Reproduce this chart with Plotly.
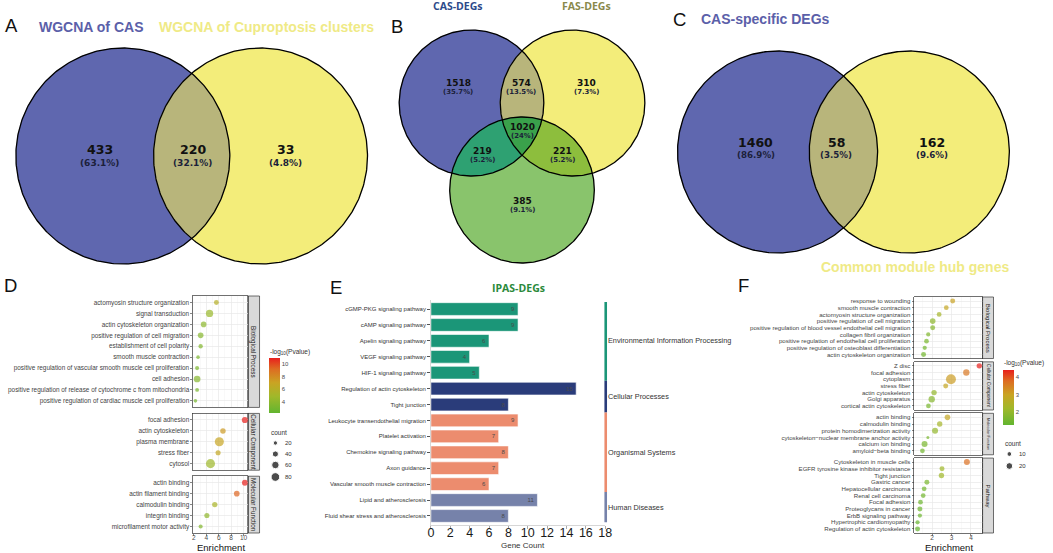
import numpy as np
import plotly.graph_objects as go

W, H = 1053, 553

# ============================ DATA ============================
A_sets = ["WGCNA of CAS", "WGCNA of Cuproptosis clusters"]
A_counts = [433, 220, 33]            # CAS only, both, Cuproptosis only

B_sets = ["CAS-DEGs", "FAS-DEGs", "IPAS-DEGs"]
B_regions = ["CAS", "CAS&FAS", "FAS", "CAS&IPAS", "CAS&FAS&IPAS", "FAS&IPAS", "IPAS"]
B_counts = [1518, 574, 310, 219, 1020, 221, 385]

C_sets = ["CAS-specific DEGs", "Common module hub genes"]
C_counts = [1460, 58, 162]

D_facets = ["Biological Process", "Cellular Component", "Molecular Function"]
D_bp_terms = ["actomyosin structure organization", "signal transduction",
              "actin cytoskeleton organization", "positive regulation of cell migration",
              "establishment of cell polarity", "smooth muscle contraction",
              "positive regulation of vascular smooth muscle cell proliferation",
              "cell adhesion",
              "positive regulation of release of cytochrome c from mitochondria",
              "positive regulation of cardiac muscle cell proliferation"]
D_bp_enrich = [5.63, 4.53, 3.58, 3.1, 3.1, 2.68, 2.53, 2.53, 2.53, 2.26]
D_bp_logp = [6.0, 4.6, 4.0, 3.8, 3.6, 3.4, 3.4, 3.8, 3.3, 3.2]
D_bp_count = [26, 56, 34, 34, 20, 14, 18, 48, 16, 14]

D_cc_terms = ["focal adhesion", "actin cytoskeleton", "plasma membrane", "stress fiber", "cytosol"]
D_cc_enrich = [10.2, 6.68, 6.1, 5.9, 4.68]
D_cc_logp = [10.9, 7.4, 6.9, 6.7, 4.8]
D_cc_count = [40, 32, 88, 28, 88]

D_mf_terms = ["actin binding", "actin filament binding", "calmodulin binding",
              "integrin binding", "microfilament motor activity"]
D_mf_enrich = [10.2, 8.9, 5.37, 4.1, 3.1]
D_mf_logp = [10.9, 9.3, 5.4, 4.2, 3.6]
D_mf_count = [36, 34, 30, 28, 18]

D_x_ticks = [2, 4, 6, 8, 10]
D_cbar_ticks = [4, 6, 8, 10]
D_count_breaks = [20, 40, 60, 80]

E_terms = ["cGMP-PKG signaling pathway", "cAMP signaling pathway", "Apelin signaling pathway",
           "VEGF signaling pathway", "HIF-1 signaling pathway", "Regulation of actin cytoskeleton",
           "Tight junction", "Leukocyte transendothelial migration", "Platelet activation",
           "Chemokine signaling pathway", "Axon guidance", "Vascular smooth muscle contraction",
           "Lipid and atherosclerosis", "Fluid shear stress and atherosclerosis"]
E_counts = [9, 9, 6, 4, 5, 15, 8, 9, 7, 8, 7, 6, 11, 8]
E_class = ["Environmental Information Processing"] * 5 + ["Cellular Processes"] * 2 + \
          ["Organismal Systems"] * 5 + ["Human Diseases"] * 2
E_x_ticks = [0, 2, 4, 6, 8, 10, 12, 14, 16, 18]

F_facets = ["Biological Process", "Cellular Component", "Molecular Function", "Pathway"]
F_bp_terms = ["response to wounding", "smooth muscle contraction", "actomyosin structure organization",
              "positive regulation of cell migration",
              "positive regulation of blood vessel endothelial cell migration",
              "collagen fibril organization", "positive regulation of endothelial cell proliferation",
              "positive regulation of osteoblast differentiation", "actin cytoskeleton organization"]
F_bp_enrich = [3.06, 2.73, 2.36, 2.03, 2.03, 1.8, 1.71, 1.62, 1.56]
F_bp_logp = [3.0, 2.9, 2.3, 1.9, 1.8, 1.7, 1.6, 1.5, 1.5]
F_bp_count = [11, 10, 10, 14, 11, 8, 10, 8, 11]

F_cc_terms = ["Z disc", "focal adhesion", "cytoplasm", "stress fiber", "actin cytoskeleton",
              "Golgi apparatus", "cortical actin cytoskeleton"]
F_cc_enrich = [4.43, 3.76, 2.97, 2.7, 2.1, 1.98, 1.81]
F_cc_logp = [4.4, 3.6, 3.1, 2.9, 2.0, 1.8, 1.6]
F_cc_count = [13, 18, 44, 11, 13, 18, 10]

F_mf_terms = ["actin binding", "calmodulin binding", "protein homodimerization activity",
              "cytoskeleton\u2212nuclear membrane anchor activity", "calcium ion binding",
              "amyloid\u2212beta binding"]
F_mf_enrich = [2.79, 2.39, 2.15, 1.78, 1.61, 1.5]
F_mf_logp = [2.9, 2.3, 2.0, 1.6, 1.6, 1.5]
F_mf_count = [14, 13, 16, 4, 16, 10]

F_pw_terms = ["Cytoskeleton in muscle cells", "EGFR tyrosine kinase inhibitor resistance",
              "Tight junction", "Gastric cancer", "Hepatocellular carcinoma", "Renal cell carcinoma",
              "Focal adhesion", "Proteoglycans in cancer", "ErbB signaling pathway",
              "Hypertrophic cardiomyopathy", "Regulation of actin cytoskeleton"]
F_pw_enrich = [3.79, 2.51, 2.48, 1.73, 1.59, 1.54, 1.4, 1.37, 1.37, 1.25, 1.25]
F_pw_logp = [3.7, 2.2, 2.2, 1.6, 1.5, 1.5, 1.4, 1.4, 1.4, 1.3, 1.3]
F_pw_count = [16, 11, 13, 11, 10, 10, 10, 11, 8, 8, 11]

F_x_ticks = [2, 3, 4]
F_cbar_ticks = [2, 3, 4]
F_count_breaks = [10, 20]

# ============================ STYLE / LAYOUT ============================
def X(px):
    return px / W


def Y(py):
    return 1 - py / H


BLUE, YEL, OLIVE = "#5f67af", "#f3ed7a", "#b8b57b"
GREEN, BG_, YG_, ALL_ = "#89c46c", "#2ea172", "#8dbe3d", "#3aa14b"
CSCALE = [[0, "#62b530"], [0.3, "#a0b82a"], [0.55, "#c9a423"], [0.8, "#dd6c22"], [1, "#e8201d"]]
E_CLASS_COLORS = {"Environmental Information Processing": "#1b9678",
                  "Cellular Processes": "#2a3c7a",
                  "Organismal Systems": "#ec8c6e",
                  "Human Diseases": "#7682aa"}
FONT = "Liberation Sans, Arial, sans-serif"
NUMFONT = "DejaVu Sans, Verdana, sans-serif"

fig = go.Figure()
lay = dict(width=W, height=H, margin=dict(l=0, r=0, t=0, b=0), paper_bgcolor="white",
           plot_bgcolor="rgba(0,0,0,0)", showlegend=False,
           font=dict(family=FONT, color="#222"))
lay["xaxis"] = dict(domain=[0, 1], range=[0, W], visible=False, fixedrange=True)
lay["yaxis"] = dict(domain=[0, 1], range=[H, 0], visible=False, fixedrange=True)
ann, shp = [], []


def txt(x, y, text, size, color="#222", family=FONT, xanchor="center", **kw):
    d = dict(x=x, y=y, xref="x", yref="y", text=text,
             showarrow=False, xanchor=xanchor, yanchor="middle",
             font=dict(size=size, color=color, family=family))
    d.update(kw)
    ann.append(d)


# ---------------- Venn geometry ----------------
def circ(cx, cy, r, n=360):
    t = np.linspace(0, 2 * np.pi, n, endpoint=False)
    return np.column_stack([cx + r * np.cos(t), cy + r * np.sin(t)])


def signed_area(p):
    x, y = p[:, 0], p[:, 1]
    return 0.5 * np.sum(x * np.roll(y, -1) - np.roll(x, -1) * y)


def clip(subject, clipper):
    sgn = 1 if signed_area(clipper) > 0 else -1
    out = [tuple(p) for p in subject]
    n = len(clipper)
    for i in range(n):
        a = clipper[i]
        b = clipper[(i + 1) % n]

        def inside(p):
            return sgn * ((b[0] - a[0]) * (p[1] - a[1]) - (b[1] - a[1]) * (p[0] - a[0])) >= 0

        def inter(p, q):
            x1, y1 = p
            x2, y2 = q
            x3, y3 = a
            x4, y4 = b
            den = (x1 - x2) * (y3 - y4) - (y1 - y2) * (x3 - x4)
            t = ((x1 - x3) * (y3 - y4) - (y1 - y3) * (x3 - x4)) / den
            return (x1 + t * (x2 - x1), y1 + t * (y2 - y1))

        inp = out
        out = []
        if not inp:
            break
        s = inp[-1]
        for e in inp:
            if inside(e):
                if not inside(s):
                    out.append(inter(s, e))
                out.append(e)
            elif inside(s):
                out.append(inter(s, e))
            s = e
    return np.array(out)


def poly(p, color):
    fig.add_trace(go.Scatter(x=np.append(p[:, 0], p[0, 0]), y=np.append(p[:, 1], p[0, 1]),
                             mode="lines", fill="toself", fillcolor=color,
                             line=dict(width=0.3, color=color), hoverinfo="skip",
                             xaxis="x", yaxis="y"))


def outline(p):
    fig.add_trace(go.Scatter(x=np.append(p[:, 0], p[0, 0]), y=np.append(p[:, 1], p[0, 1]),
                             mode="lines", line=dict(width=1.3, color="black"), hoverinfo="skip",
                             xaxis="x", yaxis="y"))


def pct(counts):
    tot = sum(counts)
    return [f"({round(100 * c / tot, 1):g}%)" for c in counts]


def venn_labels(counts, pos, nsize, psize, dy):
    for c, p, (x, y) in zip(counts, pct(counts), pos):
        txt(x, y, f"<b>{c}</b>", nsize, "#111", NUMFONT)
        txt(x, y + dy, f"<b>{p}</b>", psize, "#1c1f3a", NUMFONT)


# Panel A
PA1, PA2 = circ(121, 156, 108), circ(260, 156, 108)
poly(PA1, BLUE); poly(PA2, YEL); poly(clip(PA1, PA2), OLIVE)
outline(PA1); outline(PA2)
venn_labels(A_counts, [(97.5, 149), (191.5, 149), (285, 149)], 12.5, 9, 13.5)
txt(88.5, 27, f"<b>{A_sets[0]}</b>", 14, "#5b60a9")
txt(155, 27, f"<b>{A_sets[1]}</b>", 14, "#efea86", xanchor="left")

# Panel B
PB1, PB2, PB3 = circ(473, 103, 73), circ(575, 103, 73), circ(524, 190, 73)
poly(PB1, BLUE); poly(PB2, YEL); poly(PB3, GREEN)
poly(clip(PB1, PB2), OLIVE); poly(clip(PB1, PB3), BG_); poly(clip(PB2, PB3), YG_)
poly(clip(clip(PB1, PB2), PB3), ALL_)
outline(PB1); outline(PB2); outline(PB3)
venn_labels(B_counts, [(459.5, 83), (523, 83), (589.5, 83), (484, 151), (524.5, 127),
                       (564.5, 151), (524.5, 201)], 9, 6.9, 8.5)
txt(459, 6, f"<b>{B_sets[0]}</b>", 10.5, "#2c4a8a", "Open Sans, sans-serif")
txt(589, 6, f"<b>{B_sets[1]}</b>", 10.5, "#8a894b", "Open Sans, sans-serif")
txt(520, 288, f"<b>{B_sets[2]}</b>", 10.5, "#2b8a3b", "Open Sans, sans-serif")

# Panel C
PC1, PC2 = circ(782, 152, 101), circ(915, 152, 101)
poly(PC1, BLUE); poly(PC2, YEL); poly(clip(PC1, PC2), OLIVE)
outline(PC1); outline(PC2)
venn_labels(C_counts, [(760, 142), (841, 142), (937.5, 142)], 12.5, 8.7, 13)
txt(703, 18.5, f"<b>{C_sets[0]}</b>", 14, "#5b60a9", xanchor="left")
txt(921, 267, f"<b>{C_sets[1]}</b>", 14, "#efea86")

# Panel letters
for letter, (lx, ly) in zip("ABCDEF", [(9, 25), (398, 26), (683, 19), (8, 285), (336, 287), (748, 285)]):
    txt(lx, ly, letter, 18.5, "#111")


# ---------------- Faceted dot plots (D, F) ----------------
def facet_block(k0, xl, xr, strip_w, top, bottom, gap, facets, terms, enrich, logp, counts,
                xrange_, xticks, cax, size_k, strip_sizes, yfont):
    ns = [len(t) for t in terms]
    unit = (bottom - top - gap * (len(ns) - 1)) / sum(n + 0.2 for n in ns)
    step = xticks[1] - xticks[0]
    minor = [m for m in [xticks[0] - step / 2] + [t + step / 2 for t in xticks]
             if xrange_[0] < m < xrange_[1]]
    y = top
    for i, n in enumerate(ns):
        h = (n + 0.2) * unit
        k = k0 + i
        last = i == len(ns) - 1
        lay[f"xaxis{k}"] = dict(domain=[X(xl), X(xr)], anchor=f"y{k}", range=xrange_,
                                tickmode="array", tickvals=xticks, showticklabels=last,
                                ticks="outside" if last else "", ticklen=2, tickwidth=0.6,
                                tickcolor="#333", tickfont=dict(size=6.5, color="#4d4d4d"),
                                ticklabelstandoff=-4,
                                showgrid=True, gridcolor="#e8e8e8", gridwidth=0.7,
                                minor=dict(tickmode="array", tickvals=minor, showgrid=True,
                                           gridcolor="#f3f3f3", gridwidth=0.5),
                                showline=True, mirror=True, linecolor="#333", linewidth=0.7,
                                zeroline=False, fixedrange=True)
        lay[f"yaxis{k}"] = dict(domain=[Y(y + h), Y(y)], anchor=f"x{k}", type="category",
                                categoryorder="array", categoryarray=terms[i],
                                tickmode="array", tickvals=terms[i], ticktext=terms[i],
                                range=[n - 0.4, -0.6], ticks="outside", ticklen=2, tickwidth=0.6,
                                tickcolor="#333", tickfont=dict(size=yfont, color="#444"),
                                showgrid=True, gridcolor="#e8e8e8", gridwidth=0.7,
                                showline=True, mirror=True, linecolor="#333", linewidth=0.7,
                                zeroline=False, fixedrange=True)
        fig.add_trace(go.Scatter(x=enrich[i], y=terms[i], mode="markers",
                                 marker=dict(size=[size_k * np.sqrt(c) for c in counts[i]],
                                             color=logp[i], coloraxis=cax, line=dict(width=0)),
                                 xaxis=f"x{k}", yaxis=f"y{k}", hoverinfo="skip", cliponaxis=False))
        shp.append(dict(type="rect", xref="paper", yref="paper", x0=X(xr), x1=X(xr + strip_w),
                        y0=Y(y + h), y1=Y(y), fillcolor="#d9d9d9",
                        line=dict(color="#333", width=0.7), layer="below"))
        ann.append(dict(xref="paper", yref="paper", x=X(xr + strip_w / 2), y=Y(y + h / 2),
                        xanchor="center", yanchor="middle",
                        text=facets[i], textangle=90, showarrow=False,
                        font=dict(size=strip_sizes[i], color="#1a1a1a", family=FONT)))
        y += h + gap


D_SIZE_K, F_SIZE_K = 0.97, 1.5
facet_block(2, 192, 247, 12, 296, 533, 6, D_facets,
            [D_bp_terms, D_cc_terms, D_mf_terms], [D_bp_enrich, D_cc_enrich, D_mf_enrich],
            [D_bp_logp, D_cc_logp, D_mf_logp], [D_bp_count, D_cc_count, D_mf_count],
            [1.9, 10.65], D_x_ticks, "coloraxis", D_SIZE_K, [6.3, 6.3, 6.3], 6.4)
facet_block(6, 920, 989, 11, 297, 533, 3.3, F_facets,
            [F_bp_terms, F_cc_terms, F_mf_terms, F_pw_terms],
            [F_bp_enrich, F_cc_enrich, F_mf_enrich, F_pw_enrich],
            [F_bp_logp, F_cc_logp, F_mf_logp, F_pw_logp],
            [F_bp_count, F_cc_count, F_mf_count, F_pw_count],
            [1.08, 4.6], F_x_ticks, "coloraxis2", F_SIZE_K, [6.0, 4.9, 3.8, 6.0], 6.1)

txt(220, 547.5, "Enrichment", 9.5, "#111")
txt(955, 547.5, "Enrichment", 9.5, "#111")


def cbar(x, ytop, ticks):
    return dict(x=X(x), xanchor="left", y=Y(ytop), yanchor="top", len=55, lenmode="pixels",
                thickness=11, thicknessmode="pixels", xpad=0, ypad=0, outlinewidth=0,
                tickmode="array", tickvals=ticks, ticks="", tickfont=dict(size=6, color="#4d4d4d"))


lay["coloraxis"] = dict(colorscale=CSCALE, cmin=2.3, cmax=10.9, colorbar=cbar(269, 358, D_cbar_ticks))
lay["coloraxis2"] = dict(colorscale=CSCALE, cmin=1.25, cmax=4.4, colorbar=cbar(1010, 370, F_cbar_ticks))
txt(268, 352, "-log<sub>10</sub>(Pvalue)", 6.5, "#333", xanchor="left")
txt(1009, 363, "-log<sub>10</sub>(Pvalue)", 6.5, "#333", xanchor="left")


def count_legend(x0, ytitle, ys, breaks, k):
    txt(x0 - 6, ytitle, "count", 6.5, "#333", xanchor="left")
    fig.add_trace(go.Scatter(x=[x0] * len(breaks), y=ys, mode="markers",
                             marker=dict(color="black", size=[k * np.sqrt(b) for b in breaks]),
                             xaxis="x", yaxis="y", hoverinfo="skip"))
    for b, yy in zip(breaks, ys):
        txt(x0 + 8, yy, str(b), 6, "#333", xanchor="left")


count_legend(275, 432, [443, 454, 465, 477], D_count_breaks, D_SIZE_K)
count_legend(1016, 443, [454, 466], F_count_breaks, F_SIZE_K)

# ---------------- Panel E bar chart ----------------
fig.add_trace(go.Bar(y=E_terms, x=E_counts, orientation="h", width=0.8,
                     marker=dict(color=[E_CLASS_COLORS[c] for c in E_class],
                                 line=dict(color="white", width=0.6)),
                     text=E_counts, textposition="inside", insidetextanchor="end", textangle=0,
                     textfont=dict(size=6, color="#4a4a4a"), constraintext="none",
                     xaxis="x5", yaxis="y5", hoverinfo="skip"))
lay["xaxis5"] = dict(domain=[X(432), X(608)], anchor="y5", range=[0, 18], tickmode="array",
                     tickvals=E_x_ticks, ticks="outside", ticklen=3, tickcolor="#aaa",
                     tickfont=dict(size=12.5, color="#1a1a1a"), ticklabelstandoff=-7,
                     showline=True, linecolor="#ccc",
                     linewidth=0.8, showgrid=False, zeroline=False, fixedrange=True)
lay["yaxis5"] = dict(domain=[Y(525.5), Y(299.5)], anchor="x5", type="category",
                     categoryorder="array", categoryarray=E_terms,
                     tickmode="array", tickvals=E_terms, ticktext=E_terms, range=[13.6, -0.6],
                     ticks="outside", ticklen=3, tickcolor="#555", tickfont=dict(size=6, color="#333"),
                     showline=True, linecolor="#ccc", linewidth=0.8, showgrid=False, fixedrange=True)
txt(525, 545, "Gene Count", 8, "#333")

groups = []
for i, c in enumerate(E_class):
    if groups and groups[-1][0] == c:
        groups[-1][2] = i
    else:
        groups.append([c, i, i])
for gi, (c, s, e) in enumerate(groups):
    y0 = s - 0.45 if gi == 0 else s - 0.5
    y1 = e + 0.4 if gi == len(groups) - 1 else e + 0.5
    shp.append(dict(type="line", xref="paper", yref="y5", x0=X(608.5), x1=X(608.5), y0=y0, y1=y1,
                    line=dict(color=E_CLASS_COLORS[c], width=2.6)))
    ann.append(dict(xref="paper", yref="y5", x=X(609), y=(s + e) / 2, text=c, showarrow=False,
                    xanchor="left", yanchor="middle", font=dict(size=7.3, color="#333", family=FONT)))

lay["annotations"] = ann
lay["shapes"] = shp
fig.update_layout(**lay)
fig.write_html("out.html", config={"displayModeBar": False, "staticPlot": True},
               post_script="document.body.style.margin='0';document.body.style.padding='0';"
                           "document.documentElement.style.overflow='hidden';")
